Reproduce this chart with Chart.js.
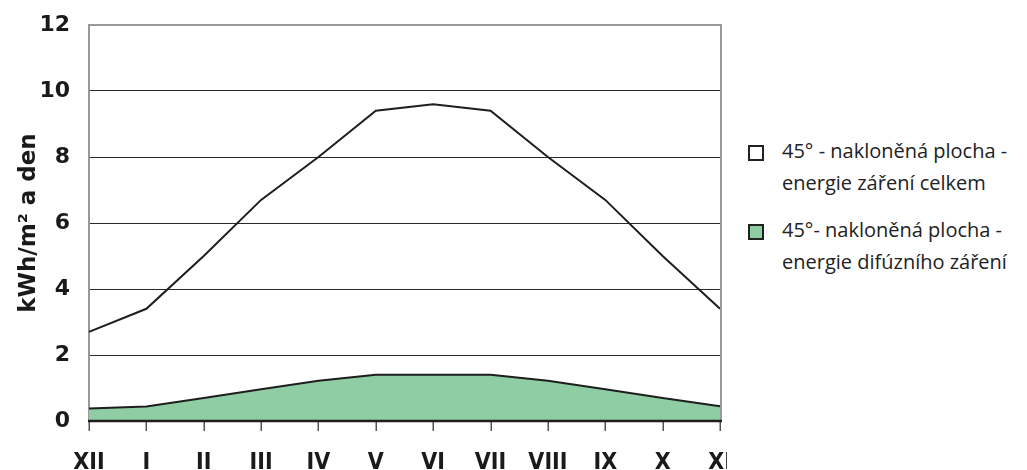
<!DOCTYPE html>
<html lang="cs">
<head>
<meta charset="utf-8">
<title>Energie slunečního záření na 45° nakloněnou plochu</title>
<script src="https://cdn.jsdelivr.net/npm/chart.js@4.4.1/dist/chart.umd.min.js"></script>
<style>
  html, body { margin: 0; padding: 0; background: #fff; }
  #wrap { position: relative; width: 1027px; height: 470px; }
  #chartBox { position: absolute; left: 0; top: 0; width: 727px; height: 470px; }
  .legend { position: absolute; left: 748px; font-family: "Open Sans", "Noto Sans", sans-serif;
            font-size: 20px; color: #222; line-height: 32px; }
  .legend .item { position: absolute; left: 0; white-space: nowrap; }
  .legend .box { position: absolute; left: 0; width: 12px; height: 12px; border: 2px solid #222; }
  .legend .txt { position: absolute; left: 34px; top: 0; }
</style>
</head>
<body>
<div id="wrap">
  <div id="chartBox"><canvas id="chart"></canvas></div>
  <div class="legend" id="legend"></div>
</div>
<script>
// Months (December of the previous year through November)
const months = ['XII', 'I', 'II', 'III', 'IV', 'V', 'VI', 'VII', 'VIII', 'IX', 'X', 'XI'];

// Daily energy on a 45° tilted surface, kWh/m² per day
const totalRadiation   = [2.7, 3.4, 5.0, 6.7, 8.0, 9.4, 9.6, 9.4, 8.0, 6.7, 5.0, 3.4];
const diffuseRadiation = [0.38, 0.44, 0.7, 0.96, 1.22, 1.4, 1.4, 1.4, 1.22, 0.96, 0.7, 0.45];

const yTicks = [0, 2, 4, 6, 8, 10, 12];

const seriesNames = [
  ['45° - nakloněná plocha -', 'energie záření celkem'],
  ['45°- nakloněná plocha -', 'energie difúzního záření']
];

const GREEN = '#8fcda5';
const LINE = '#1e1e1e';

// Grey frame on the top and right, dark zero baseline and month tick marks
const frame = {
  id: 'frame',
  afterDraw(chart) {
    const { ctx, chartArea: a } = chart;
    const xs = chart.scales.x;
    ctx.save();
    ctx.strokeStyle = '#999';
    ctx.lineWidth = 2;
    ctx.beginPath();
    ctx.moveTo(a.left, a.top);
    ctx.lineTo(a.right + 1, a.top);
    ctx.lineTo(a.right + 1, a.bottom);
    ctx.stroke();

    ctx.strokeStyle = '#555';
    ctx.lineWidth = 1.5;
    ctx.beginPath();
    xs.ticks.forEach((t, i) => {
      const x = Math.round(xs.getPixelForTick(i)) + 0.25;
      ctx.moveTo(x, a.bottom);
      ctx.lineTo(x, a.bottom + 10);
    });
    ctx.stroke();

    ctx.strokeStyle = LINE;
    ctx.lineWidth = 2.5;
    ctx.beginPath();
    ctx.moveTo(a.left - 1, a.bottom);
    ctx.lineTo(a.right + 2, a.bottom);
    ctx.stroke();
    ctx.restore();
  }
};

const chart = new Chart(document.getElementById('chart'), {
  type: 'line',
  data: {
    labels: months,
    datasets: [
      {
        label: seriesNames[0].join(' '),
        data: totalRadiation,
        borderColor: LINE,
        borderWidth: 2,
        pointRadius: 0,
        fill: false,
        tension: 0
      },
      {
        label: seriesNames[1].join(' '),
        data: diffuseRadiation,
        borderColor: LINE,
        borderWidth: 2,
        backgroundColor: GREEN,
        pointRadius: 0,
        fill: 'origin',
        tension: 0
      }
    ]
  },
  options: {
    responsive: true,
    maintainAspectRatio: false,
    animation: false,
    layout: { padding: { top: 25, right: 7, left: 0, bottom: 0 } },
    plugins: { legend: { display: false }, tooltip: { enabled: false } },
    scales: {
      x: {
        type: 'category',
        offset: false,
        grid: { display: false, drawTicks: false },
        border: { display: false },
        ticks: {
          color: '#1a1a1a',
          padding: 28,
          maxRotation: 0,
          autoSkip: false,
          font: { family: '"DejaVu Sans Condensed", "DejaVu Sans", sans-serif', weight: 'bold', size: 23 }
        },
        afterFit(scale) {
          scale.height = 49;
          scale.paddingLeft = 0;
          scale.paddingRight = 0;
        }
      },
      y: {
        min: 0,
        max: 12,
        afterBuildTicks(scale) { scale.ticks = yTicks.map(v => ({ value: v })); },
        grid: {
          drawTicks: false,
          color: ctx => (ctx.tick && ctx.tick.value === 12) ? 'rgba(0,0,0,0)' : '#2a2a2a',
          lineWidth: 1
        },
        border: { display: true, color: '#999', width: 2 },
        ticks: {
          color: '#1a1a1a',
          padding: 19,
          font: { family: '"DejaVu Sans", sans-serif', weight: 'bold', size: 22 }
        },
        title: {
          display: true,
          text: 'kWh/m² a den',
          color: '#1a1a1a',
          padding: { top: 15, bottom: 0 },
          font: { family: '"DejaVu Sans", sans-serif', weight: 'bold', size: 23 }
        },
        afterFit(scale) {
          scale.width = 89;
          scale.paddingTop = 0;
          scale.paddingBottom = 0;
        }
      }
    }
  },
  plugins: [frame]
});

// Legend beside the plot
const legendEl = document.getElementById('legend');
const legendTops = [135, 214];
const fills = ['#fff', GREEN];
seriesNames.forEach((lines, i) => {
  const item = document.createElement('div');
  item.className = 'item';
  item.style.top = legendTops[i] + 'px';
  const box = document.createElement('div');
  box.className = 'box';
  box.style.top = '10px';
  box.style.background = fills[i];
  const txt = document.createElement('div');
  txt.className = 'txt';
  txt.innerHTML = lines.join('<br>');
  item.appendChild(box);
  item.appendChild(txt);
  legendEl.appendChild(item);
});
</script>
</body>
</html>
